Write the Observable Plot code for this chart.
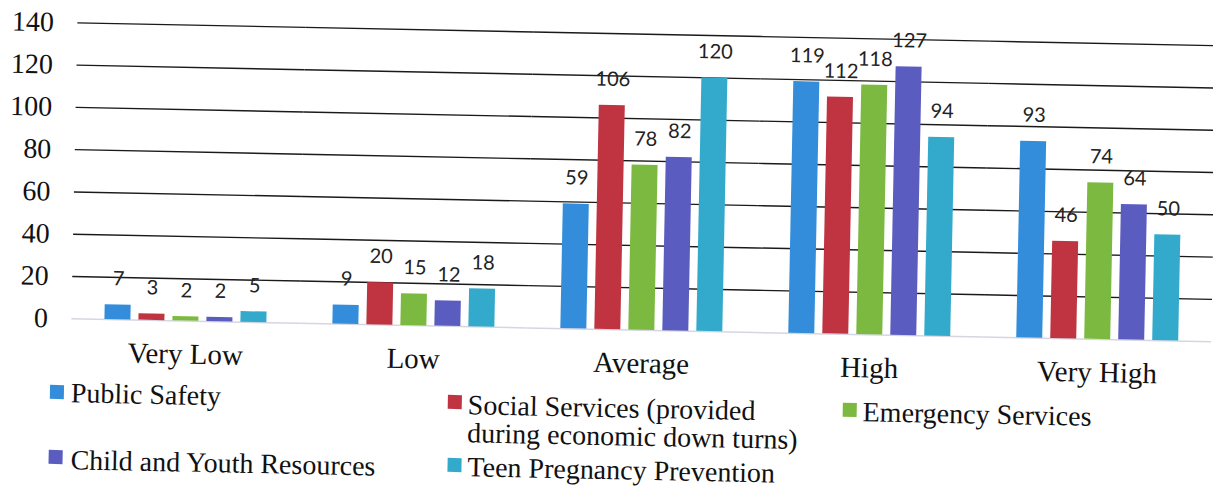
<!DOCTYPE html>
<html><head><meta charset="utf-8">
<script src="https://cdn.jsdelivr.net/npm/d3@7"></script>
<script src="https://cdn.jsdelivr.net/npm/@observablehq/plot@0.6"></script>
<style>
html,body{margin:0;padding:0;background:#fff;overflow:hidden;}
#wrap{position:relative;width:1213px;height:489px;transform:rotate(1.15deg);transform-origin:606.5px 244.5px;}
#chart{position:absolute;left:0;top:0;}
.legtxt{position:absolute;font-family:"Liberation Serif","Times New Roman",serif;font-size:28px;line-height:28px;color:#111;white-space:pre;}
.sw{position:absolute;width:14px;height:14px;}
</style></head><body><div id="wrap"><div id="chart"></div><div id="legend"></div></div>
<script>
const categories = ["Very Low","Low","Average","High","Very High"];
const series = ["Public Safety","Social Services (provided during economic down turns)","Emergency Services","Child and Youth Resources","Teen Pregnancy Prevention"];
const legendLabels = ["Public Safety","Social Services (provided\nduring economic down turns)","Emergency Services","Child and Youth Resources","Teen Pregnancy Prevention"];
const publicSafety = [7,9,59,119,93];
const socialServices = [3,20,106,112,46];
const emergencyServices = [2,15,78,118,74];
const childYouth = [2,12,82,127,64];
const teenPregnancy = [5,18,120,94,50];
const yTicks = [0,20,40,60,80,100,120,140];
const colors = ["#338ddb","#bf3440","#7cb940","#5b5cc0","#33aacb"];

const seriesValues = [publicSafety, socialServices, emergencyServices, childYouth, teenPregnancy];
const data = categories.flatMap((c,i)=>series.map((s,j)=>({category:c, series:s, value:seriesValues[j][i]})));

const plot = Plot.plot({
  width:1213, height:390,
  marginTop:33, marginBottom:61, marginLeft:72, marginRight:0,
  style:{fontFamily:"Liberation Serif", background:"transparent", color:"#111"},
  fx:{domain:categories, paddingInner:0, paddingOuter:0, label:null, axis:null},
  x:{domain:series, paddingInner:0.23, paddingOuter:0.875, axis:null},
  y:{domain:[0,140], axis:null},
  color:{domain:series, range:colors},
  marks:[
    Plot.gridY(yTicks.filter(d=>d>0), {stroke:"#1a1a1a", strokeOpacity:1, strokeWidth:1.4}),
    Plot.ruleY([0], {stroke:"#d6d6e2", strokeWidth:1.5}),
    Plot.barY(data,{fx:"category", x:"series", y:"value", fill:"series"}),
    Plot.text(data,{fx:"category", x:"series", y:"value", text:d=>String(d.value), dy:-26, lineAnchor:"middle", fontSize:20, fontFamily:"Lato", fill:"#222"}),
    Plot.axisY(yTicks,{tickSize:0, tickPadding:24, fontSize:28, fontFamily:"Liberation Serif", fill:"#111", label:null, facetAnchor:"left"}),
    Plot.axisFx({anchor:"bottom", tickSize:0, tickPadding:22, fontSize:29, fontFamily:"Liberation Serif", fill:"#111", label:null})
  ]
});
document.getElementById("chart").appendChild(plot);

// [marker left, marker top, text left, text top]
const legendPos = [[53,396,74,390],[451,398,471,394],[846,398,866,393],[53,461,75,457],[452,461,472,456]];
const leg = document.getElementById("legend");
series.forEach((s,i)=>{
  const p = legendPos[i];
  const sw = document.createElement("div");
  sw.className = "sw";
  sw.style.left = p[0]+"px"; sw.style.top = p[1]+"px";
  sw.style.background = colors[i];
  leg.appendChild(sw);
  const t = document.createElement("div");
  t.className = "legtxt";
  t.style.left = p[2]+"px"; t.style.top = p[3]+"px";
  t.textContent = legendLabels[i];
  leg.appendChild(t);
});
</script></body></html>
